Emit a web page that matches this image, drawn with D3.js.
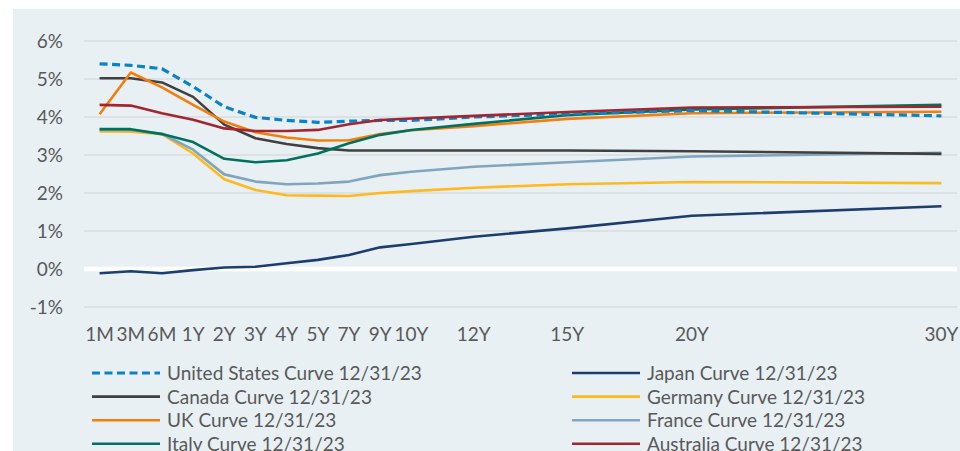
<!DOCTYPE html>
<html>
<head>
<meta charset="utf-8">
<script src="https://cdn.jsdelivr.net/npm/d3@7"></script>
<style>
  body { margin: 0; background: #ffffff; }
  text { font-family: Lato, "Open Sans", sans-serif; fill: #595959; }
</style>
</head>
<body>
<div id="chart"></div>
<script>
var svgWidth = 960;
var svgHeight = 451;

// maturities and their slot on the category axis (blank categories in between)
var maturities = ["1M", "3M", "6M", "1Y", "2Y", "3Y", "4Y", "5Y", "7Y", "9Y", "10Y", "12Y", "15Y", "20Y", "30Y"];
var slots = [0, 1, 2, 3, 4, 5, 6, 7, 8, 9, 10, 12, 15, 19, 27];
var yTicks = [-1, 0, 1, 2, 3, 4, 5, 6];

var usCurve = [5.40, 5.36, 5.27, 4.80, 4.27, 3.99, 3.91, 3.86, 3.89, 3.91, 3.91, 4.00, 4.08, 4.17, 4.03];
var japanCurve = [-0.11, -0.06, -0.11, -0.03, 0.04, 0.06, 0.15, 0.24, 0.37, 0.57, 0.66, 0.85, 1.07, 1.40, 1.65];
var canadaCurve = [5.02, 5.02, 4.91, 4.53, 3.80, 3.44, 3.29, 3.18, 3.12, 3.12, 3.12, 3.12, 3.12, 3.10, 3.03];
var germanyCurve = [3.62, 3.61, 3.55, 3.04, 2.36, 2.08, 1.94, 1.93, 1.92, 2.00, 2.05, 2.14, 2.23, 2.29, 2.26];
var ukCurve = [4.07, 5.17, 4.78, 4.32, 3.88, 3.60, 3.46, 3.38, 3.39, 3.55, 3.65, 3.76, 3.95, 4.10, 4.14];
var franceCurve = [3.66, 3.66, 3.56, 3.14, 2.49, 2.30, 2.23, 2.25, 2.30, 2.47, 2.56, 2.69, 2.81, 2.96, 3.06];
var italyCurve = [3.68, 3.68, 3.55, 3.34, 2.90, 2.81, 2.86, 3.04, 3.31, 3.53, 3.66, 3.82, 4.05, 4.20, 4.32];
var australiaCurve = [4.32, 4.30, 4.10, 3.93, 3.70, 3.63, 3.63, 3.66, 3.81, 3.92, 3.96, 4.03, 4.13, 4.25, 4.27];

var seriesNames = ["United States Curve 12/31/23", "Japan Curve 12/31/23", "Canada Curve 12/31/23", "Germany Curve 12/31/23",
    "UK Curve 12/31/23", "France Curve 12/31/23", "Italy Curve 12/31/23", "Australia Curve 12/31/23"];
var seriesValues = [usCurve, japanCurve, canadaCurve, germanyCurve, ukCurve, franceCurve, italyCurve, australiaCurve];
var seriesColors = ["#0b82c4", "#1d3d6e", "#404040", "#ffb91d", "#f47d0b", "#7fa6bd", "#00715e", "#a2262f"];
// drawing order (back to front)
var drawOrder = [1, 3, 5, 2, 4, 6, 0, 7];

var margin = { top: 41, left: 84, right: 3, bottom: 144 };
var width = svgWidth - margin.left - margin.right;
var height = svgHeight - margin.top - margin.bottom;

var svg = d3.select("#chart")
    .append("svg")
    .attr("width", svgWidth)
    .attr("height", svgHeight);

svg.append("rect")
    .attr("x", 13)
    .attr("y", 9)
    .attr("width", svgWidth - 13)
    .attr("height", svgHeight - 9)
    .attr("fill", "#e8f0f4");

var chartGroup = svg.append("g")
    .attr("transform", `translate(${margin.left}, ${margin.top})`);

var xScale = d3.scaleLinear()
    .domain([-0.5, 27.5])
    .range([0, width]);

var yScale = d3.scaleLinear()
    .domain([-1, 6])
    .range([height, 0]);

// gridlines
chartGroup.append("g")
    .selectAll("line")
    .data(yTicks.filter(d => d !== 0))
    .enter()
    .append("line")
    .attr("x1", 0)
    .attr("x2", width)
    .attr("y1", d => yScale(d))
    .attr("y2", d => yScale(d))
    .attr("stroke", "#d9dcde")
    .attr("stroke-width", 1.5);

chartGroup.append("line")
    .attr("x1", 0)
    .attr("x2", width)
    .attr("y1", yScale(0))
    .attr("y2", yScale(0))
    .attr("stroke", "#ffffff")
    .attr("stroke-width", 4.5);

// y axis labels
var leftAxis = d3.axisLeft(yScale)
    .tickValues(yTicks)
    .tickSize(0)
    .tickPadding(21)
    .tickFormat(d => d + "%");

chartGroup.append("g")
    .call(leftAxis)
    .call(g => g.select(".domain").remove())
    .selectAll("text")
    .style("font-size", "19px")
    .attr("fill", "#595959");

// x axis labels
var xAxisScale = d3.scaleOrdinal()
    .domain(maturities)
    .range(slots.map(s => xScale(s)));

chartGroup.append("g")
    .selectAll("text")
    .data(maturities)
    .enter()
    .append("text")
    .attr("x", d => xAxisScale(d))
    .attr("y", height + 34)
    .attr("text-anchor", "middle")
    .style("font-size", "19px")
    .text(d => d);

// curves
var line = d3.line()
    .x((d, i) => xScale(slots[i]))
    .y(d => yScale(d));

chartGroup.append("g")
    .selectAll("path")
    .data(drawOrder)
    .enter()
    .append("path")
    .attr("d", k => line(seriesValues[k]))
    .attr("fill", "none")
    .attr("stroke", k => seriesColors[k])
    .attr("stroke-width", k => k === 0 ? 3.2 : 2.6)
    .attr("stroke-dasharray", k => k === 0 ? "8,4.5" : null)
    .attr("stroke-linejoin", "round");

// legend
var legend = svg.append("g");

var legendItems = legend.selectAll("g")
    .data(seriesNames)
    .enter()
    .append("g")
    .attr("transform", (d, i) => `translate(${i % 2 === 0 ? 92 : 572}, ${373 + Math.floor(i / 2) * 23.6})`);

legendItems.append("line")
    .attr("x1", 0)
    .attr("x2", 68)
    .attr("y1", 0)
    .attr("y2", 0)
    .attr("stroke", (d, i) => seriesColors[i])
    .attr("stroke-width", (d, i) => i === 0 ? 3.2 : 2.6)
    .attr("stroke-dasharray", (d, i) => i === 0 ? "8,4.5" : null);

legendItems.append("text")
    .attr("x", 75)
    .attr("y", 7)
    .style("font-size", "19px")
    .text(d => d);
</script>
</body>
</html>
